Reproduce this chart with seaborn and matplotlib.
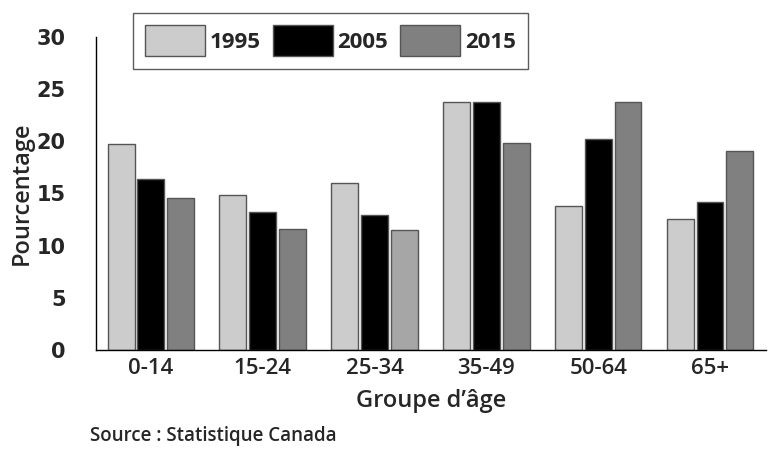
import pandas as pd
import matplotlib.pyplot as plt
import seaborn as sns

# data
groups = ['0-14', '15-24', '25-34', '35-49', '50-64', '65+']
years = ['1995', '2005', '2015']
v1995 = [19.7, 14.8, 16.0, 23.8, 13.8, 12.5]
v2005 = [16.4, 13.2, 12.9, 23.8, 20.2, 14.2]
v2015 = [14.6, 11.6, 11.5, 19.8, 23.8, 19.1]
colors = ['#cccccc', '#000000', '#808080']

df = pd.DataFrame({
    'groupe': groups * 3,
    'annee': [y for y in years for _ in groups],
    'pct': v1995 + v2005 + v2015,
})

sns.set_style('white')
plt.rcParams['font.family'] = ['Open Sans', 'DejaVu Sans']

fig = plt.figure(figsize=(7.69, 4.55), dpi=100)
ax = fig.add_axes([0.125, 0.231, 0.871, 0.688])

sns.barplot(data=df, x='groupe', y='pct', hue='annee', order=groups,
            hue_order=years, palette=colors, gap=0.1, width=0.8,
            edgecolor='#555555', linewidth=1, ax=ax)

# the 25-34 / 2015 bar is a lighter grey in the original
ax.containers[2][2].set_facecolor('#a6a6a6')

ax.set_xlim(-0.49, 5.5)
ax.set_ylim(0, 30)
ax.set_yticks([0, 5, 10, 15, 20, 25, 30])
ax.set_yticklabels([str(t) for t in [0, 5, 10, 15, 20, 25, 30]],
                   fontsize=15, fontweight='bold', family='DejaVu Sans')
ax.tick_params(axis='x', labelsize=16, length=0, pad=6)
ax.tick_params(axis='y', length=0, pad=22)
for lab in ax.get_xticklabels():
    lab.set_fontweight('semibold')

for s in ['top', 'right']:
    ax.spines[s].set_visible(False)
for s in ['left', 'bottom']:
    ax.spines[s].set_color('black')
    ax.spines[s].set_linewidth(1)

ax.set_xlabel("Groupe d’âge", fontsize=17, fontweight='semibold', labelpad=7)
ax.set_ylabel('Pourcentage', fontsize=17, fontweight='semibold', labelpad=2)

ax.get_legend().remove()
handles = ax.containers
leg = fig.legend([c[0] for c in handles], years, loc='upper left',
                 bbox_to_anchor=(0.173, 0.972), borderaxespad=0, ncol=3,
                 frameon=True, fancybox=False, edgecolor='#333333',
                 handlelength=2.7, handleheight=1.8, handletextpad=0.2,
                 columnspacing=0.55, borderpad=0.55,
                 prop={'weight': 'bold', 'size': 16})
leg.get_frame().set_linewidth(1)

fig.text(0.117, 0.03, 'Source : Statistique Canada', fontsize=13.5,
         fontweight='semibold')

fig.savefig('out.png', dpi=100)
